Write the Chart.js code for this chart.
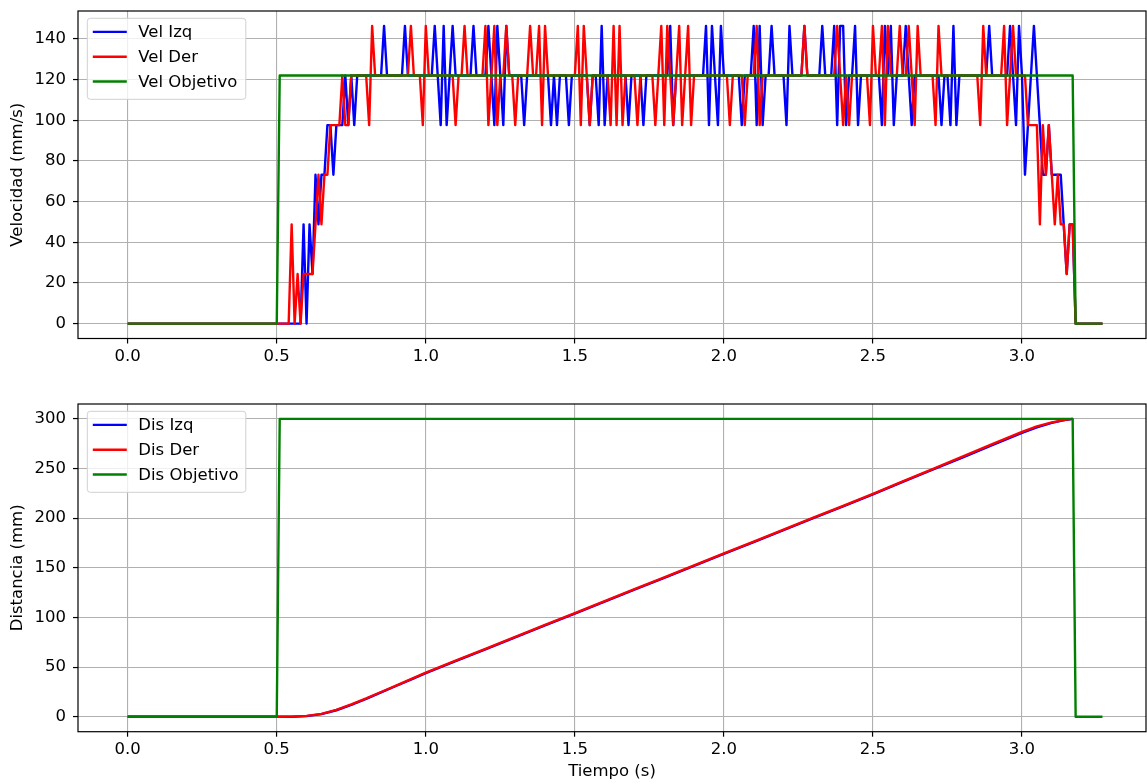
<!DOCTYPE html>
<html><head><meta charset="utf-8">
<script src="https://cdn.jsdelivr.net/npm/chart.js@4.4.1/dist/chart.umd.min.js"></script>
<style>html,body{margin:0;padding:0;background:#fff;overflow:hidden;width:1147px;height:784px}
#c1{position:absolute;left:0;top:0}#c2{position:absolute;left:0;top:392px}</style>
</head><body>
<canvas id="c1" width="1147" height="392"></canvas>
<canvas id="c2" width="1147" height="392"></canvas>
<script>
// ---------- data ----------
const velTime = [
0,0.01,0.02,0.03,0.04,0.05,0.06,0.07,0.08,0.09,
0.1,0.11,0.12,0.13,0.14,0.15,0.16,0.17,0.18,0.19,
0.2,0.21,0.22,0.23,0.24,0.25,0.26,0.27,0.28,0.29,
0.3,0.31,0.32,0.33,0.34,0.35,0.36,0.37,0.38,0.39,
0.4,0.41,0.42,0.43,0.44,0.45,0.46,0.47,0.48,0.49,
0.5,0.51,0.52,0.53,0.54,0.55,0.56,0.57,0.58,0.59,
0.6,0.61,0.62,0.63,0.64,0.65,0.66,0.67,0.68,0.69,
0.7,0.71,0.72,0.73,0.74,0.75,0.76,0.77,0.78,0.79,
0.8,0.81,0.82,0.83,0.84,0.85,0.86,0.87,0.88,0.89,
0.9,0.91,0.92,0.93,0.94,0.95,0.96,0.97,0.98,0.99,
1,1.01,1.02,1.03,1.04,1.05,1.06,1.07,1.08,1.09,
1.1,1.11,1.12,1.13,1.14,1.15,1.16,1.17,1.18,1.19,
1.2,1.21,1.22,1.23,1.24,1.25,1.26,1.27,1.28,1.29,
1.3,1.31,1.32,1.33,1.34,1.35,1.36,1.37,1.38,1.39,
1.4,1.41,1.42,1.43,1.44,1.45,1.46,1.47,1.48,1.49,
1.5,1.51,1.52,1.53,1.54,1.55,1.56,1.57,1.58,1.59,
1.6,1.61,1.62,1.63,1.64,1.65,1.66,1.67,1.68,1.69,
1.7,1.71,1.72,1.73,1.74,1.75,1.76,1.77,1.78,1.79,
1.8,1.81,1.82,1.83,1.84,1.85,1.86,1.87,1.88,1.89,
1.9,1.91,1.92,1.93,1.94,1.95,1.96,1.97,1.98,1.99,
2,2.01,2.02,2.03,2.04,2.05,2.06,2.07,2.08,2.09,
2.1,2.11,2.12,2.13,2.14,2.15,2.16,2.17,2.18,2.19,
2.2,2.21,2.22,2.23,2.24,2.25,2.26,2.27,2.28,2.29,
2.3,2.31,2.32,2.33,2.34,2.35,2.36,2.37,2.38,2.39,
2.4,2.41,2.42,2.43,2.44,2.45,2.46,2.47,2.48,2.49,
2.5,2.51,2.52,2.53,2.54,2.55,2.56,2.57,2.58,2.59,
2.6,2.61,2.62,2.63,2.64,2.65,2.66,2.67,2.68,2.69,
2.7,2.71,2.72,2.73,2.74,2.75,2.76,2.77,2.78,2.79,
2.8,2.81,2.82,2.83,2.84,2.85,2.86,2.87,2.88,2.89,
2.9,2.91,2.92,2.93,2.94,2.95,2.96,2.97,2.98,2.99,
3,3.01,3.02,3.03,3.04,3.05,3.06,3.07,3.08,3.09,
3.1,3.11,3.12,3.13,3.14,3.15,3.16,3.17,3.18,3.19,
3.2,3.21,3.22,3.23,3.24,3.25,3.26,3.27];

const velIzq = [
0,0,0,0,0,0,0,0,0,0,
0,0,0,0,0,0,0,0,0,0,
0,0,0,0,0,0,0,0,0,0,
0,0,0,0,0,0,0,0,0,0,
0,0,0,0,0,0,0,0,0,0,
0,0,0,0,0,0,0,0,0,48.8,
0,48.8,24.4,73.2,48.8,73.2,73.2,97.6,97.6,73.2,
97.6,97.6,97.6,122,97.6,122,97.6,122,122,122,
122,122,122,122,122,122,146.4,122,122,122,
122,122,122,146.4,122,122,122,122,122,122,
122,122,122,146.4,122,97.6,146.4,97.6,122,146.4,
122,122,122,122,122,122,146.4,122,122,122,
122,146.4,122,97.6,146.4,122,97.6,146.4,122,122,
122,122,122,97.6,122,122,122,122,122,122,
122,122,97.6,122,97.6,122,122,122,97.6,122,
122,122,122,122,122,97.6,122,122,97.6,146.4,
97.6,122,122,122,122,122,122,122,97.6,122,
122,122,122,97.6,122,122,122,122,122,122,
122,122,146.4,97.6,122,122,122,122,122,122,
122,122,122,122,146.4,97.6,146.4,122,97.6,146.4,
122,122,122,122,122,122,97.6,122,122,122,
146.4,97.6,146.4,97.6,122,122,146.4,122,122,122,
122,97.6,146.4,122,122,122,122,146.4,122,122,
122,122,122,146.4,122,122,122,146.4,97.6,146.4,
146.4,97.6,122,122,146.4,97.6,122,122,122,122,
122,122,122,97.6,146.4,122,146.4,97.6,122,122,
122,146.4,122,97.6,122,122,122,122,122,122,
122,122,122,97.6,122,122,97.6,146.4,97.6,122,
122,122,122,122,122,122,122,122,122,146.4,
122,122,122,122,122,122,146.4,122,97.6,146.4,
122,73.2,97.6,122,146.4,122,97.6,73.2,73.2,97.6,
73.2,73.2,73.2,73.2,48.8,24.4,48.8,48.8,0,0,
0,0,0,0,0,0,0,0];

const velDer = [
0,0,0,0,0,0,0,0,0,0,
0,0,0,0,0,0,0,0,0,0,
0,0,0,0,0,0,0,0,0,0,
0,0,0,0,0,0,0,0,0,0,
0,0,0,0,0,0,0,0,0,0,
0,0,0,0,0,48.8,0,24.4,0,24.4,
24.4,24.4,24.4,48.8,73.2,48.8,73.2,73.2,97.6,97.6,
97.6,97.6,122,97.6,97.6,122,122,122,122,122,
122,97.6,146.4,122,122,122,122,122,122,122,
122,122,122,122,122,146.4,122,122,122,97.6,
146.4,122,122,122,122,122,122,122,122,122,
97.6,122,122,146.4,122,122,122,122,122,122,
146.4,97.6,122,146.4,97.6,122,122,146.4,122,122,
97.6,122,122,122,122,146.4,122,122,146.4,97.6,
146.4,122,122,122,122,122,122,122,122,122,
122,146.4,97.6,146.4,122,97.6,122,122,122,122,
122,122,97.6,146.4,97.6,146.4,97.6,122,122,122,
122,97.6,122,122,122,122,122,97.6,122,146.4,
97.6,146.4,122,97.6,122,146.4,97.6,122,146.4,97.6,
122,122,122,122,122,122,122,122,122,122,
122,122,97.6,122,122,122,122,97.6,122,122,
122,146.4,97.6,122,122,122,122,122,122,122,
122,122,122,122,122,122,122,146.4,122,122,
122,122,122,122,122,122,122,122,146.4,122,
97.6,122,97.6,122,122,122,122,122,122,97.6,
146.4,122,122,146.4,97.6,146.4,122,122,122,146.4,
122,122,146.4,122,97.6,146.4,122,122,122,122,
122,97.6,146.4,122,122,122,122,122,122,122,
122,122,122,122,122,122,97.6,146.4,122,122,
122,122,122,122,146.4,97.6,122,146.4,122,122,
122,122,97.6,97.6,97.6,97.6,48.8,97.6,73.2,97.6,
73.2,48.8,73.2,48.8,48.8,24.4,48.8,48.8,0,0,
0,0,0,0,0,0,0,0];

const objTime = [0, 0.5, 0.51, 3.17, 3.18, 3.27];
const velObjetivo = [0, 0, 122, 122, 0, 0];
const disObjetivo = [0, 0, 300, 300, 0, 0];

const disTime = [0,0.5,0.55,0.6,0.65,0.7,0.75,0.8,0.85,0.9,0.95,1.0,
1.1,1.2,1.3,1.4,1.5,1.6,1.7,1.8,1.9,2.0,2.1,2.2,2.3,2.4,2.5,2.6,2.7,2.8,2.9,3.0,
3.05,3.1,3.15,3.17];
const disDer = [0,0,0.2,0.9,3,7,12.5,18.5,25,31.5,38,44.5,
56.5,68.5,80.5,92.5,104.5,116.5,128.5,140.5,152.5,164.5,176.5,188.5,200.5,212.5,224.5,237,249.5,262,274.5,287,
292.5,296.5,299.3,300];
const disIzq = [0,0,0.1,0.7,2.7,6.6,12,18,24.5,31,37.5,44,
56,68,80,92,104,116,128,140,152,164,176,188,200,212,224,236.5,249,261,273.5,286,
291.5,296,299.2,300];

const xTicks = [0, 0.5, 1.0, 1.5, 2.0, 2.5, 3.0];
const velTicks = [0, 20, 40, 60, 80, 100, 120, 140];
const disTicks = [0, 50, 100, 150, 200, 250, 300];
const velLabels = ['Vel Izq', 'Vel Der', 'Vel Objetivo'];
const disLabels = ['Dis Izq', 'Dis Der', 'Dis Objetivo'];

// ---------- drawing ----------
const FONT = 'DejaVu Sans';
const FS = 16.5;
const COLORS = ['#0000ff', '#ff0000', '#008000'];

const framePlugin = {
  id: 'frame',
  afterDraw(chart, args, opts) {
    const {ctx, chartArea: a} = chart;
    ctx.save();
    ctx.strokeStyle = '#000';
    ctx.lineWidth = 1.2;
    ctx.strokeRect(a.left, a.top, a.right - a.left, a.bottom - a.top);
    const bx = a.left + 9.3, by = a.top + 7.3, bw = 158.5, bh = 81, r = 3;
    ctx.beginPath();
    ctx.moveTo(bx + r, by);
    ctx.lineTo(bx + bw - r, by); ctx.arcTo(bx + bw, by, bx + bw, by + r, r);
    ctx.lineTo(bx + bw, by + bh - r); ctx.arcTo(bx + bw, by + bh, bx + bw - r, by + bh, r);
    ctx.lineTo(bx + r, by + bh); ctx.arcTo(bx, by + bh, bx, by + bh - r, r);
    ctx.lineTo(bx, by + r); ctx.arcTo(bx, by, bx + r, by, r);
    ctx.closePath();
    ctx.fillStyle = 'rgba(255,255,255,0.8)';
    ctx.fill();
    ctx.strokeStyle = '#d0d0d0';
    ctx.lineWidth = 1;
    ctx.stroke();
    ctx.font = FS + 'px "' + FONT + '"';
    ctx.textBaseline = 'middle';
    ctx.textAlign = 'left';
    opts.items.forEach((txt, i) => {
      const y = by + 13.6 + i * 24.8;
      ctx.strokeStyle = COLORS[i];
      ctx.lineWidth = 2.4;
      ctx.beginPath();
      ctx.moveTo(bx + 5.5, y); ctx.lineTo(bx + 39.5, y);
      ctx.stroke();
      ctx.fillStyle = '#000';
      ctx.fillText(txt, bx + 51, y + 1);
    });
    ctx.restore();
  }
};

function pts(xs, ys) { return xs.map((x, i) => ({x: x, y: ys[i]})); }

function makeChart(id, c) {
  return new Chart(document.getElementById(id), {
    type: 'line',
    data: {
      datasets: [
        {label: c.labels[0], data: pts(c.t1, c.y1), borderColor: COLORS[0], order: 3},
        {label: c.labels[1], data: pts(c.t2, c.y2), borderColor: COLORS[1], order: 2},
        {label: c.labels[2], data: pts(c.t3, c.y3), borderColor: COLORS[2], order: 1}
      ]
    },
    options: {
      responsive: false, animation: false, devicePixelRatio: 1, events: [],
      layout: {padding: {top: c.padTop, right: 1, left: 0, bottom: 0}},
      elements: {
        line: {borderWidth: 2.4, tension: 0, borderJoinStyle: 'round', borderCapStyle: 'butt', fill: false},
        point: {radius: 0, hoverRadius: 0}
      },
      plugins: {legend: {display: false}, tooltip: {enabled: false}, frame: {items: c.labels}},
      scales: {
        x: {
          type: 'linear', min: -0.1667, max: 3.416,
          afterBuildTicks: s => { s.ticks = xTicks.map(v => ({value: v})); },
          afterFit: s => { s.height = c.xh; s.paddingLeft = 0; s.paddingRight = 0; },
          ticks: {font: {family: FONT, size: FS}, color: '#000', padding: 3, maxRotation: 0, autoSkip: false,
                  callback: v => Number(v).toFixed(1)},
          grid: {color: '#b0b0b0', lineWidth: 1.1, drawTicks: true, tickLength: 5, tickColor: '#000', tickWidth: 1.2},
          border: {display: false},
          title: {display: !!c.xTitle, text: c.xTitle || '', color: '#000', font: {family: FONT, size: FS}, padding: {top: 0, bottom: 2}}
        },
        y: {
          type: 'linear', min: c.ymin, max: c.ymax,
          afterBuildTicks: s => { s.ticks = c.yTicks.map(v => ({value: v})); },
          afterFit: s => { s.width = 78; s.paddingTop = 0; s.paddingBottom = 0; },
          ticks: {font: {family: FONT, size: FS}, color: '#000', padding: 7, autoSkip: false, callback: v => String(v)},
          grid: {color: '#b0b0b0', lineWidth: 1.1, drawTicks: true, tickLength: 5, tickColor: '#000', tickWidth: 1.2},
          border: {display: false},
          title: {display: true, text: c.yTitle, color: '#000', font: {family: FONT, size: FS}, padding: {top: 8, bottom: 0}}
        }
      }
    },
    plugins: [framePlugin]
  });
}

makeChart('c1', {
  labels: velLabels, t1: velTime, y1: velIzq, t2: velTime, y2: velDer, t3: objTime, y3: velObjetivo,
  padTop: 11, xh: 53.5, ymin: -7.32, ymax: 153.72, yTicks: velTicks, yTitle: 'Velocidad (mm/s)'
});
makeChart('c2', {
  labels: disLabels, t1: disTime, y1: disIzq, t2: disTime, y2: disDer, t3: objTime, y3: disObjetivo,
  padTop: 12, xh: 52.3, ymin: -15, ymax: 315, yTicks: disTicks, yTitle: 'Distancia (mm)', xTitle: 'Tiempo (s)'
});
</script>
</body></html>
